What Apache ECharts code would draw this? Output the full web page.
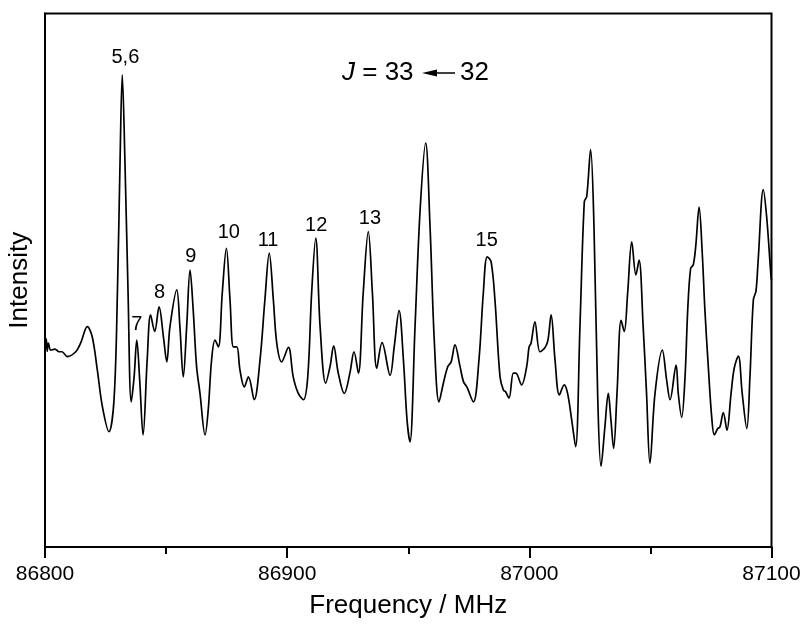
<!DOCTYPE html>
<html>
<head>
<meta charset="utf-8">
<script src="https://cdn.jsdelivr.net/npm/echarts@6/dist/echarts.min.js"></script>
<style>html,body{margin:0;padding:0;background:#fff}#c{width:802px;height:631px}</style>
</head>
<body>
<div id="c"></div>
<script>
const freq = [86800.0,86800.5,86800.9,86801.4,86802.4,86804.1,86805.8,86807.0,86809.2,86812.7,86814.7,86817.5,86819.5,86821.6,86823.7,86826.4,86828.5,86829.9,86831.0,86831.9,86833.0,86834.3,86835.6,86836.8,86837.9,86839.1,86840.5,86842.2,86843.6,86845.3,86847.1,86848.9,86850.3,86851.6,86854.4,86855.7,86857.1,86858.5,86859.9,86861.2,86862.6,86864.0,86866.1,86867.4,86868.8,86870.2,86871.6,86873.2,86874.9,86876.4,86877.8,86879.2,86880.5,86882.3,86884.0,86886.4,86888.8,86890.8,86892.6,86894.3,86895.7,86897.7,86900.5,86902.5,86904.5,86906.7,86908.5,86910.1,86911.8,86913.6,86915.9,86917.7,86919.2,86921.1,86923.6,86925.9,86927.6,86929.4,86931.4,86933.5,86935.2,86937.0,86939.2,86942.5,86944.2,86946.2,86948.0,86949.5,86950.7,86952.8,86954.9,86957.2,86959.0,86960.8,86962.7,86964.5,86966.3,86967.7,86969.3,86971.4,86972.8,86974.2,86976.9,86979.2,86981.0,86982.6,86984.2,86985.8,86987.9,86989.3,86990.2,86991.6,86993.4,86994.4,86996.8,86998.9,86999.9,87000.7,87002.3,87004.4,87006.5,87007.7,87009.0,87010.6,87012.4,87014.4,87015.8,87017.5,87019.1,87020.9,87022.7,87023.7,87025.3,87026.7,87028.2,87029.6,87031.2,87032.6,87033.7,87034.8,87036.2,87037.9,87039.2,87040.6,87042.3,87044.0,87045.3,87047.0,87048.4,87049.8,87051.9,87054.9,87056.7,87058.1,87060.6,87061.5,87062.9,87064.3,87065.4,87066.6,87067.7,87068.7,87070.1,87071.4,87072.5,87073.9,87075.3,87076.4,87077.8,87078.7,87080.1,87081.6,87083.3,87084.6,87086.3,87087.9,87089.8,87091.1,87092.5,87093.6,87094.5,87096.6,87098.0,87099.7,87100.0];
const intensity = [38.1,39.0,36.7,38.2,36.9,37.1,36.6,36.6,35.7,36.6,38.2,41.3,39.4,33.2,26.3,21.6,27.6,47.6,72.5,88.5,72.5,47.6,27.2,31.9,38.8,31.3,21.0,35.1,43.5,40.4,45.0,39.4,34.7,41.3,48.2,41.3,31.9,41.3,51.9,44.4,33.8,28.8,21.0,25.7,35.1,38.8,37.5,47.6,56.0,46.3,37.5,37.5,33.2,30.0,31.9,27.6,35.1,46.3,55.1,46.3,38.2,34.7,37.4,31.9,28.9,27.6,31.9,47.6,57.9,41.3,30.7,33.8,37.7,32.6,28.8,32.6,36.6,32.6,47.6,59.1,47.6,33.5,38.3,32.2,37.5,44.3,35.1,23.8,19.7,41.3,63.2,75.7,60.0,38.2,27.2,30.7,33.8,34.7,37.9,33.8,31.0,30.0,27.2,35.1,47.6,54.4,53.5,46.3,31.9,29.4,29.1,27.9,32.6,32.6,30.4,33.8,37.5,38.2,42.2,36.6,37.4,38.8,43.5,35.1,28.5,30.4,28.8,23.8,18.8,41.3,64.7,65.7,74.5,60.0,28.8,15.1,22.5,28.8,23.8,18.5,28.8,42.5,40.4,47.6,57.2,51.0,53.8,41.3,28.8,15.7,28.8,36.9,31.3,27.6,34.1,28.8,24.3,31.9,44.4,52.2,52.9,56.3,63.7,55.1,44.4,33.8,24.4,21.0,22.2,22.5,25.2,21.9,28.8,33.5,35.8,28.8,22.2,31.9,46.3,48.0,53.8,67.0,61.9,51.3,50.0];

const labelTexts = ['5,6','7','8','9','10','11','12','13','15'];
const labelFreq = [86833.2,86837.9,86847.3,86860.2,86875.9,86892.1,86912.0,86934.2,86982.4];
const labelInt = [91.8,41.8,47.8,54.5,58.9,57.5,60.2,61.5,57.4];

const xTicks = [86800, 86900, 87000, 87100];

const FONT = '"Liberation Sans", Arial, sans-serif';
const chart = echarts.init(document.getElementById('c'), null, {renderer: 'canvas'});
const lineData = freq.map((f, i) => [f, intensity[i]]);
const labelData = labelTexts.map((t, i) => ({value: [labelFreq[i], labelInt[i]], name: t}));

chart.setOption({
  animation: false,
  backgroundColor: '#fff',
  textStyle: {fontFamily: FONT},
  grid: {left: 45, right: 30.5, top: 13.5, bottom: 84, show: true, borderColor: '#000', borderWidth: 2, containLabel: false, outerBoundsMode: 'none'},
  xAxis: {
    type: 'value', min: xTicks[0], max: xTicks[xTicks.length - 1], interval: 100,
    name: 'Frequency / MHz', nameLocation: 'middle', nameGap: 46,
    nameTextStyle: {fontSize: 26, color: '#000', fontFamily: FONT},
    axisLine: {show: true, lineStyle: {color: '#000', width: 2}},
    axisTick: {show: true, length: 11, lineStyle: {color: '#000', width: 2}},
    minorTick: {show: true, splitNumber: 2, length: 7, lineStyle: {color: '#000', width: 2}},
    axisLabel: {fontSize: 21, color: '#000', margin: 17, fontFamily: FONT, formatter: v => String(v)},
    splitLine: {show: false}
  },
  yAxis: {
    type: 'value', min: 0, max: 100,
    name: 'Intensity', nameLocation: 'middle', nameGap: 12, nameRotate: 90,
    nameTextStyle: {fontSize: 26, color: '#000', fontFamily: FONT},
    axisLine: {show: true, lineStyle: {color: '#000', width: 2}},
    axisTick: {show: false}, axisLabel: {show: false}, splitLine: {show: false}
  },
  series: [
    {
      type: 'line', data: lineData, smooth: 0.35, symbol: 'none',
      lineStyle: {color: '#000', width: 1.7}, clip: true
    },
    {
      type: 'scatter', data: labelData, symbolSize: 0, silent: true,
      itemStyle: {opacity: 1, color: '#000'},
      label: {show: true, position: 'inside', formatter: p => p.name, fontSize: 20, color: '#000', opacity: 1, fontFamily: FONT}
    }
  ],
  graphic: [
    {type: 'text', left: 342, top: 60, style: {text: '{i|J} = 33', fontSize: 26, fill: '#000', font: '26px ' + FONT,
      rich: {i: {fontStyle: 'italic', fontSize: 26, fontFamily: FONT}}}},
    {type: 'line', shape: {x1: 433, y1: 73, x2: 455, y2: 73}, style: {stroke: '#000', lineWidth: 1.5}},
    {type: 'polygon', shape: {points: [[422, 73], [437, 69.5], [437, 76.5]]}, style: {fill: '#000'}},
    {type: 'text', left: 460, top: 60, style: {text: '32', fontSize: 26, fill: '#000', font: '26px ' + FONT}}
  ]
});
</script>
</body>
</html>
